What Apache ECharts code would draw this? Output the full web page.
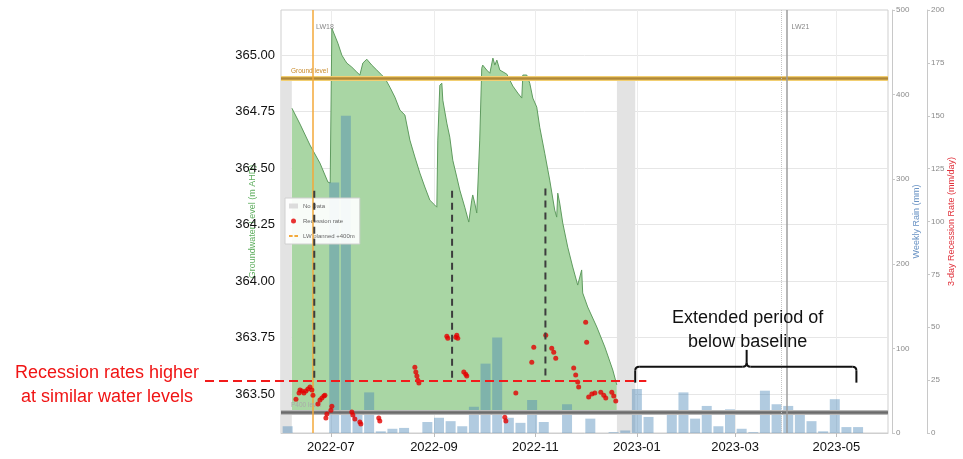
<!DOCTYPE html>
<html>
<head>
<meta charset="utf-8">
<script src="https://cdn.jsdelivr.net/npm/echarts@6/dist/echarts.min.js"></script>
<style>
  html, body { margin: 0; padding: 0; background: #fff; }
  #chart { width: 963px; height: 459px; }
</style>
</head>
<body>
<div id="chart"></div>
<script>
// Groundwater level (m AHD) at the bore
const groundwaterLevel = [
  ['2022-06-07 14:00', 364.765], ['2022-06-12 10:00', 364.695], ['2022-06-18 10:00', 364.602],
  ['2022-06-24 10:00', 364.522], ['2022-06-29 05:00', 364.438], ['2022-06-30 14:00', 364.434],
  ['2022-07-01 14:00', 365.119], ['2022-07-02 05:00', 365.111], ['2022-07-05 05:00', 365.053],
  ['2022-07-07 14:00', 365.000], ['2022-07-09 10:00', 364.978], ['2022-07-10 14:00', 364.965],
  ['2022-07-13 14:00', 364.947], ['2022-07-16 14:00', 364.925], ['2022-07-18 10:00', 364.912],
  ['2022-07-20 05:00', 364.965], ['2022-07-22 14:00', 364.982], ['2022-07-25 14:00', 364.956],
  ['2022-07-28 14:00', 364.934], ['2022-07-31 14:00', 364.912], ['2022-08-02 12:00', 364.898],
  ['2022-08-05 12:00', 364.858], ['2022-08-08 12:00', 364.814], ['2022-08-11 12:00', 364.757],
  ['2022-08-14 12:00', 364.735], ['2022-08-17 12:00', 364.624], ['2022-08-20 12:00', 364.549],
  ['2022-08-23 12:00', 364.478], ['2022-08-26 12:00', 364.416], ['2022-08-29 12:00', 364.358],
  ['2022-09-01 12:00', 364.336], ['2022-09-02 17:00', 364.327], ['2022-09-03 07:00', 364.624],
  ['2022-09-04 12:00', 364.867], ['2022-09-05 17:00', 364.876], ['2022-09-06 07:00', 364.801],
  ['2022-09-08 17:00', 364.699], ['2022-09-10 12:00', 364.637], ['2022-09-12 07:00', 364.535],
  ['2022-09-14 17:00', 364.460], ['2022-09-16 12:00', 364.403], ['2022-09-19 12:00', 364.327],
  ['2022-09-21 22:00', 364.261], ['2022-09-23 17:00', 364.358], ['2022-09-24 07:00', 364.381],
  ['2022-09-25 12:00', 364.345], ['2022-09-26 17:00', 364.301], ['2022-09-28 12:00', 364.624],
  ['2022-09-29 17:00', 364.942], ['2022-09-30 07:00', 364.956], ['2022-10-02 17:00', 364.934],
  ['2022-10-04 14:00', 364.920], ['2022-10-06 10:00', 364.987], ['2022-10-07 14:00', 364.956],
  ['2022-10-08 19:00', 364.978], ['2022-10-10 14:00', 364.934], ['2022-10-14 19:00', 364.916],
  ['2022-10-18 10:00', 364.863], ['2022-10-21 10:00', 364.832], ['2022-10-23 19:00', 364.810],
  ['2022-10-24 10:00', 364.912], ['2022-10-26 19:00', 364.912], ['2022-10-28 14:00', 364.876],
  ['2022-10-30 10:00', 364.810], ['2022-11-01 19:00', 364.770], ['2022-11-03 14:00', 364.681],
  ['2022-11-06 14:00', 364.566], ['2022-11-09 14:00', 364.447], ['2022-11-12 14:00', 364.314],
  ['2022-11-13 19:00', 364.283], ['2022-11-14 10:00', 364.389], ['2022-11-15 14:00', 364.345],
  ['2022-11-17 10:00', 364.257], ['2022-11-20 10:00', 364.150], ['2022-11-23 10:00', 364.062],
  ['2022-11-26 10:00', 363.982], ['2022-11-28 19:00', 364.049], ['2022-11-29 10:00', 363.947],
  ['2022-12-02 10:00', 363.885], ['2022-12-07 22:00', 363.796], ['2022-12-12 17:00', 363.708],
  ['2022-12-17 12:00', 363.606], ['2022-12-19 22:00', 363.540]
];

// Weekly rainfall totals (mm)
const rainWeeks = [
  '2022-06-05', '2022-06-12', '2022-06-19', '2022-06-26', '2022-07-03', '2022-07-10', '2022-07-17',
  '2022-07-24', '2022-07-31', '2022-08-07', '2022-08-14', '2022-08-21', '2022-08-28', '2022-09-04',
  '2022-09-11', '2022-09-18', '2022-09-25', '2022-10-02', '2022-10-09', '2022-10-16', '2022-10-23',
  '2022-10-30', '2022-11-06', '2022-11-13', '2022-11-20', '2022-11-27', '2022-12-04', '2022-12-11',
  '2022-12-18', '2022-12-25', '2023-01-01', '2023-01-08', '2023-01-15', '2023-01-22', '2023-01-29',
  '2023-02-05', '2023-02-12', '2023-02-19', '2023-02-26', '2023-03-05', '2023-03-12', '2023-03-19',
  '2023-03-26', '2023-04-02', '2023-04-09', '2023-04-16', '2023-04-23', '2023-04-30', '2023-05-07',
  '2023-05-14'
];
const rainValues = [
  8, 0, 0, 0, 296, 375, 27, 48, 2, 5, 6, 0, 13, 18, 14, 8, 31, 82, 113, 18, 12, 39, 13, 0, 34,
  0, 17, 0, 1, 3, 52, 19, 0, 23, 48, 17, 32, 8, 28, 5, 1, 50, 34, 32, 24, 14, 2, 40, 7, 7
];

// 3-day recession rate (mm/day)
const recessionRate = [
  ['2022-06-10 00:00', 16.0], ['2022-06-11 20:00', 18.9], ['2022-06-12 10:00', 20.3],
  ['2022-06-13 14:00', 19.8], ['2022-06-14 19:00', 18.9], ['2022-06-16 00:00', 19.8],
  ['2022-06-17 05:00', 20.8], ['2022-06-18 10:00', 21.7], ['2022-06-19 14:00', 20.3],
  ['2022-06-20 05:00', 17.9], ['2022-06-23 05:00', 13.7], ['2022-06-24 10:00', 15.6],
  ['2022-06-25 14:00', 16.5], ['2022-06-26 19:00', 17.5], ['2022-06-27 10:00', 17.9],
  ['2022-06-28 00:00', 7.1], ['2022-06-28 14:00', 9.0], ['2022-07-01 00:00', 10.8],
  ['2022-07-01 14:00', 12.7], ['2022-07-13 14:00', 9.9], ['2022-07-14 05:00', 8.5],
  ['2022-07-15 10:00', 6.6], ['2022-07-18 10:00', 5.2], ['2022-07-19 00:00', 4.2],
  ['2022-07-29 19:00', 7.1], ['2022-07-30 10:00', 5.7], ['2022-08-20 12:00', 31.1],
  ['2022-08-21 02:00', 28.8], ['2022-08-21 17:00', 26.9], ['2022-08-22 07:00', 25.0],
  ['2022-08-22 22:00', 23.6], ['2022-09-08 17:00', 45.8], ['2022-09-09 07:00', 44.8],
  ['2022-09-14 02:00', 45.3], ['2022-09-14 17:00', 46.2], ['2022-09-15 07:00', 44.8],
  ['2022-09-18 22:00', 28.8], ['2022-09-20 02:00', 27.8], ['2022-09-20 17:00', 26.9],
  ['2022-10-13 14:00', 7.5], ['2022-10-14 05:00', 5.7], ['2022-10-20 05:00', 18.9],
  ['2022-10-29 19:00', 33.5], ['2022-10-31 00:00', 40.6], ['2022-11-07 05:00', 46.2],
  ['2022-11-10 19:00', 40.1], ['2022-11-12 00:00', 38.2], ['2022-11-13 05:00', 35.4],
  ['2022-11-24 00:00', 30.7], ['2022-11-25 05:00', 27.4], ['2022-11-26 10:00', 24.1],
  ['2022-11-27 00:00', 21.7], ['2022-12-01 05:00', 52.4], ['2022-12-01 19:00', 42.9],
  ['2022-12-03 00:00', 17.0], ['2022-12-04 22:00', 18.4], ['2022-12-06 17:00', 18.9],
  ['2022-12-10 07:00', 19.3], ['2022-12-12 02:00', 17.9], ['2022-12-13 07:00', 16.5],
  ['2022-12-16 22:00', 19.3], ['2022-12-18 02:00', 17.5], ['2022-12-19 07:00', 15.1]
];

// Periods without logger data
const noDataPeriods = [
  ['2022-06-01', '2022-06-07 12:00'],
  ['2022-12-20', '2022-12-31']
];

// Axis ticks
const dateRange = ['2022-06-01', '2023-06-01'];
const monthTicks = ['2022-07-01', '2022-09-01', '2022-11-01', '2023-01-01', '2023-03-01', '2023-05-01'];
const levelTicks = [363.50, 363.75, 364.00, 364.25, 364.50, 364.75, 365.00];

// Reference levels and dates
const groundLevel = 364.90;
const baselineLevel = 363.42;
const levelMin = 363.327;
const levelMax = 365.2;
const lw18Date = '2022-06-20 06:00';
const lw21Dates = ['2023-03-29', '2023-04-01'];

// Annotation anchors
const recessionLevel = 363.557;
const recessionLineEnd = '2023-01-06 16:00';
const guideDates = ['2022-06-21 00:00', '2022-09-11 21:00', '2022-11-07 00:00'];
const guideTops = [364.40, 364.40, 364.41];
const braceStart = '2022-12-31';
const braceMid = '2023-03-08';
const braceEnd = '2023-05-13';
const braceTopLevel = 363.62;
const braceTipLevel = 363.695;
const braceEndLevel = 363.55;

const FONT = 'Liberation Sans, Arial, sans-serif';

// Dates are plotted on a numeric (ms) axis
const toTime = s => +echarts.number.parseDate(s);
const withTime = rows => rows.map(r => [toTime(r[0]), r[1]]);

const chart = echarts.init(document.getElementById('chart'));

const option = {
  animation: false,
  backgroundColor: '#fff',
  grid: {
    left: 281, right: 75, top: 10, bottom: 26,
    outerBoundsMode: 'none',
    show: true, borderColor: '#cfcfcf', borderWidth: 1
  },
  legend: {
    orient: 'vertical',
    left: 285, top: 198,
    itemWidth: 9, itemHeight: 5, itemGap: 9,
    padding: [5, 5, 5, 4],
    backgroundColor: 'rgba(255,255,255,0.92)',
    borderColor: '#d0d0d0', borderWidth: 1,
    textStyle: { fontSize: 6, color: '#666', fontFamily: FONT },
    data: [
      { name: 'No Data', icon: 'rect' },
      { name: 'Recession rate', icon: 'circle' },
      { name: 'LW planned +400m', icon: 'path://M0,0h4v2h-4z M6,0h4v2h-4z' }
    ]
  },
  xAxis: {
    type: 'value',
    min: toTime(dateRange[0]),
    max: toTime(dateRange[1]),
    axisLine: { show: true, lineStyle: { color: '#cfcfcf' } },
    axisTick: { show: true, length: 4, lineStyle: { color: '#bbb' }, customValues: monthTicks.map(toTime) },
    splitLine: { show: true, lineStyle: { color: '#ececec', width: 1 } },
    axisLabel: {
      customValues: monthTicks.map(toTime),
      margin: 8,
      fontSize: 13, color: '#111', fontFamily: FONT,
      formatter: function (v) {
        const d = new Date(v);
        return d.getFullYear() + '-' + String(d.getMonth() + 1).padStart(2, '0');
      }
    }
  },
  yAxis: [
    {
      type: 'value',
      position: 'left',
      min: levelMin, max: levelMax,
      name: 'Groundwater Level (m AHD)',
      nameLocation: 'middle',
      nameGap: 24,
      nameMoveOverlap: false,
      nameTextStyle: { color: '#5fae5f', fontSize: 9, fontFamily: FONT },
      axisLine: { show: false },
      axisTick: { show: false, customValues: levelTicks },
      splitLine: { show: true, lineStyle: { color: '#e6e6e6' } },
      axisLabel: {
        customValues: levelTicks,
        margin: 6,
        fontSize: 13, color: '#111', fontFamily: FONT,
        formatter: function (v) { return v.toFixed(2); }
      }
    },
    {
      type: 'value',
      position: 'right',
      offset: 4,
      min: 0, max: 500, interval: 100,
      name: 'Weekly Rain (mm)',
      nameLocation: 'middle',
      nameGap: 20,
      nameMoveOverlap: false,
      nameTextStyle: { color: '#6a93c4', fontSize: 9, fontFamily: FONT },
      axisLine: { show: true, lineStyle: { color: '#c8c8c8' } },
      axisTick: { show: true, length: 3, lineStyle: { color: '#c8c8c8' } },
      splitLine: { show: false },
      axisLabel: { fontSize: 8, color: '#8a8a8a', margin: 4, fontFamily: FONT }
    },
    {
      type: 'value',
      position: 'right',
      offset: 39,
      min: 0, max: 200, interval: 25,
      name: '3-day Recession Rate (mm/day)',
      nameLocation: 'middle',
      nameGap: 20,
      nameMoveOverlap: false,
      nameTextStyle: { color: '#e0303a', fontSize: 9, fontFamily: FONT },
      axisLine: { show: true, lineStyle: { color: '#c8c8c8' } },
      axisTick: { show: true, length: 3, lineStyle: { color: '#c8c8c8' } },
      splitLine: { show: false },
      axisLabel: { fontSize: 8, color: '#8a8a8a', margin: 4, fontFamily: FONT }
    }
  ],
  series: [
    {
      name: 'No Data',
      type: 'line',
      data: [],
      itemStyle: { color: '#dcdcdc' },
      lineStyle: { color: '#dcdcdc' },
      z: 1,
      markArea: {
        silent: true,
        itemStyle: { color: '#e3e3e3' },
        data: noDataPeriods.map(p => [
          { xAxis: toTime(p[0]), yAxis: levelMin },
          { xAxis: toTime(p[1]), yAxis: groundLevel - 0.01 }
        ])
      }
    },
    {
      name: 'Groundwater Level',
      type: 'line',
      yAxisIndex: 0,
      data: withTime(groundwaterLevel),
      symbol: 'none',
      z: 2,
      lineStyle: { color: '#5f9b5f', width: 1 },
      areaStyle: { color: '#a9d6a4', opacity: 1, origin: baselineLevel }
    },
    {
      name: 'Weekly Rain',
      type: 'bar',
      yAxisIndex: 1,
      barWidth: 10,
      z: 3,
      itemStyle: { color: 'rgba(70,130,180,0.42)' },
      data: rainWeeks.map((d, i) => [toTime(d), rainValues[i]])
    },
    {
      name: 'Reference levels',
      type: 'line',
      data: [],
      z: 4,
      markLine: {
        silent: true,
        symbol: 'none',
        data: [
          { yAxis: groundLevel, lineStyle: { color: '#f2cf72', width: 5, type: 'solid' }, label: { show: false } },
          {
            yAxis: groundLevel, lineStyle: { color: '#b08838', width: 2.5, type: 'solid' },
            label: { show: true, position: 'insideStartTop', formatter: 'Ground level', fontSize: 6.5, color: '#c98a2a', distance: [10, 3] }
          },
          { yAxis: baselineLevel, lineStyle: { color: '#b9b9b9', width: 5, type: 'solid' }, label: { show: false } },
          {
            yAxis: baselineLevel, lineStyle: { color: '#6b6b6b', width: 2.5, type: 'solid' },
            label: { show: true, position: 'insideStartTop', formatter: 'P400 level', fontSize: 6.5, color: '#aaa', distance: [10, 3] }
          },
          { xAxis: toTime(lw21Dates[0]), lineStyle: { color: '#c4c4c4', width: 1, type: 'dotted' }, label: { show: false } },
          { xAxis: toTime(lw21Dates[1]), lineStyle: { color: '#9d9d9d', width: 1.5, type: 'solid' }, label: { show: false } }
        ]
      }
    },
    {
      name: 'LW planned +400m',
      type: 'line',
      data: [],
      symbol: 'none',
      z: 4,
      itemStyle: { color: '#f3a93a' },
      lineStyle: { color: '#f3a93a', width: 2, type: 'dashed' },
      markLine: {
        silent: true,
        symbol: 'none',
        label: { show: false },
        lineStyle: { color: '#f3a93a', width: 1.5, type: 'solid' },
        data: [{ xAxis: toTime(lw18Date) }]
      }
    },
    {
      name: 'Recession rate',
      type: 'scatter',
      yAxisIndex: 2,
      symbolSize: 5,
      z: 6,
      itemStyle: { color: '#e30000' },
      data: withTime(recessionRate)
    }
  ]
};

chart.setOption(option);

// Overlay annotations, anchored to data positions
const P = (d, v) => chart.convertToPixel({ xAxisIndex: 0, yAxisIndex: 0 }, [toTime(d), v]);

const yRec = P(braceStart, recessionLevel)[1];
const xRecEnd = P(recessionLineEnd, recessionLevel)[0];
const graphics = [];

graphics.push({
  type: 'line', z: 100,
  shape: { x1: 205, y1: yRec, x2: xRecEnd, y2: yRec },
  style: { stroke: '#f21b1b', lineWidth: 2, lineDash: [9, 5] }
});

guideDates.forEach((d, i) => {
  const top = P(d, guideTops[i]);
  graphics.push({
    type: 'line', z: 100,
    shape: { x1: top[0], y1: top[1], x2: top[0], y2: yRec },
    style: { stroke: '#3d3d3d', lineWidth: 2, lineDash: [7, 5] }
  });
});

graphics.push({
  type: 'text', z: 100,
  style: {
    text: 'Recession rates higher\nat similar water levels',
    x: 107, y: yRec + 4,
    align: 'center', verticalAlign: 'middle',
    font: '18px ' + FONT, fill: '#f01414', lineHeight: 24
  }
});

// Curly brace over the dry stretch
const bs = P(braceStart, braceEndLevel);
const bt = P(braceStart, braceTopLevel);
const bm = P(braceMid, braceTipLevel);
const be = P(braceEnd, braceEndLevel);
const yT = bt[1], xL = bs[0], xR = be[0], xM = bm[0], yTip = bm[1], yE = bs[1];
const r = 4;
const braceStyle = { stroke: '#111', lineWidth: 2, fill: null };
const braceParts = [
  { type: 'polyline', shape: { points: [[xL, yE], [xL, yT + r]] } },
  { type: 'bezierCurve', shape: { x1: xL, y1: yT + r, cpx1: xL, cpy1: yT, x2: xL + r, y2: yT } },
  { type: 'polyline', shape: { points: [[xL + r, yT], [xM - r, yT]] } },
  { type: 'bezierCurve', shape: { x1: xM - r, y1: yT, cpx1: xM, cpy1: yT, x2: xM, y2: yT - r } },
  { type: 'polyline', shape: { points: [[xM, yT - r], [xM, yTip]] } },
  { type: 'bezierCurve', shape: { x1: xM, y1: yT - r, cpx1: xM, cpy1: yT, x2: xM + r, y2: yT } },
  { type: 'polyline', shape: { points: [[xM + r, yT], [xR - r, yT]] } },
  { type: 'bezierCurve', shape: { x1: xR - r, y1: yT, cpx1: xR, cpy1: yT, x2: xR, y2: yT + r } },
  { type: 'polyline', shape: { points: [[xR, yT + r], [xR, yE]] } }
];
braceParts.forEach(p => { p.z = 100; p.style = braceStyle; graphics.push(p); });

graphics.push({
  type: 'text', z: 100,
  style: {
    text: 'Extended period of\nbelow baseline',
    x: xM + 1, y: yTip - 20,
    align: 'center', verticalAlign: 'middle',
    font: '18px ' + FONT, fill: '#111', lineHeight: 24
  }
});

// Bore labels
const x18 = P(lw18Date, levelMax)[0];
const x21 = P(lw21Dates[1], levelMax)[0];
graphics.push({
  type: 'text', z: 100,
  style: { text: 'LW18', x: x18 + 3, y: 27, verticalAlign: 'middle', font: '7px ' + FONT, fill: '#888' }
});
graphics.push({
  type: 'text', z: 100,
  style: { text: 'LW21', x: x21 + 5, y: 27, verticalAlign: 'middle', font: '7px ' + FONT, fill: '#888' }
});

chart.setOption({ graphic: graphics });
</script>
</body>
</html>
